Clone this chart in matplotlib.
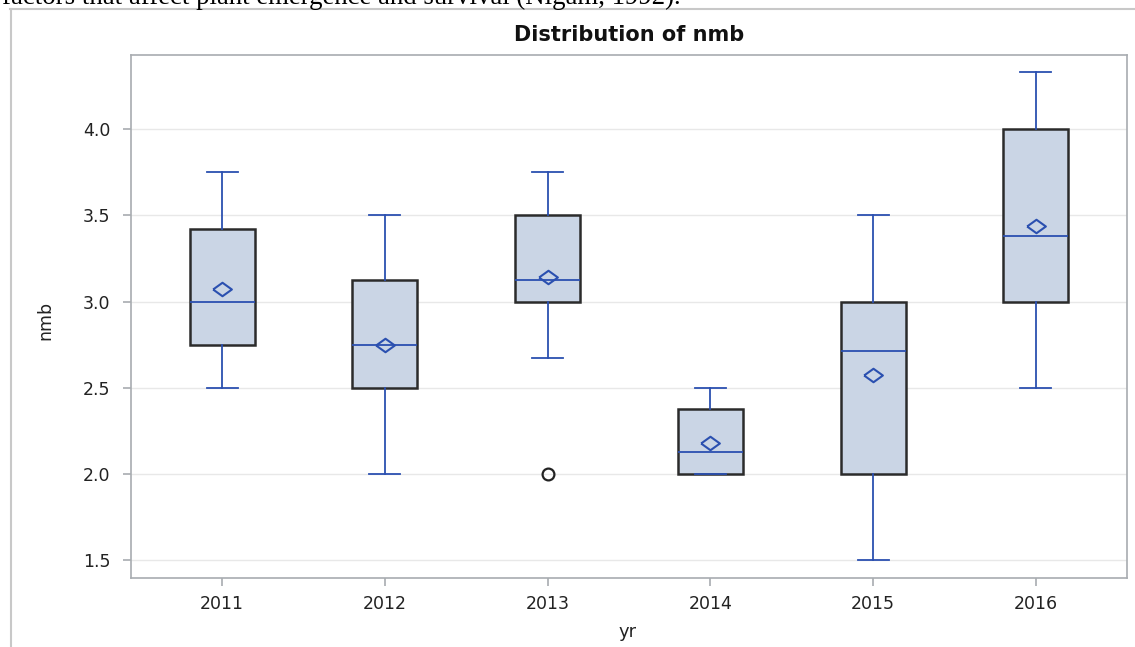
import numpy as np
import matplotlib.pyplot as plt
from matplotlib.lines import Line2D

# nmb summary statistics per year
years = ['2011', '2012', '2013', '2014', '2015', '2016']
whislo = [2.5, 2.0, 2.67, 2.0, 1.5, 2.5]
q1 = [2.75, 2.5, 3.0, 2.0, 2.0, 3.0]
med = [3.0, 2.75, 3.125, 2.125, 2.71, 3.38]
q3 = [3.42, 3.125, 3.5, 2.375, 3.0, 4.0]
whishi = [3.75, 3.5, 3.75, 2.5, 3.5, 4.33]
means = [3.07, 2.75, 3.14, 2.18, 2.575, 3.44]
fliers = [[], [], [2.0], [], [], []]

blue = '#2B50B0'
fill = '#CAD5E5'

stats = []
for i in range(len(years)):
    stats.append({'label': years[i], 'whislo': whislo[i], 'q1': q1[i], 'med': med[i],
                  'q3': q3[i], 'whishi': whishi[i], 'mean': means[i], 'fliers': fliers[i]})

# flattened diamond for the mean
diamond = [(-1, 0), (0, 0.72), (1, 0), (0, -0.72), (-1, 0)]

fig = plt.figure(figsize=(11.35, 6.47), dpi=100)
ax = fig.add_axes([131 / 1135, 1 - 578 / 647, 996 / 1135, 523 / 647])

ax.bxp(stats, positions=np.arange(len(years)), widths=0.40, patch_artist=True,
       showmeans=True, showfliers=True,
       boxprops=dict(facecolor=fill, edgecolor='#2B2B2B', linewidth=1.8),
       medianprops=dict(color=blue, linewidth=1.3),
       whiskerprops=dict(color=blue, linewidth=1.3),
       capprops=dict(color=blue, linewidth=1.3),
       capwidths=0.19,
       meanprops=dict(marker=diamond, markersize=13.5, markerfacecolor='none',
                      markeredgecolor=blue, markeredgewidth=1.5),
       flierprops=dict(marker='o', markersize=8.5, markerfacecolor='none',
                       markeredgecolor='#222222', markeredgewidth=1.6))

ax.set_xlim(-0.56, 5.56)
ax.set_ylim(1.396, 4.43)
ax.set_yticks([1.5, 2.0, 2.5, 3.0, 3.5, 4.0])
ax.set_yticklabels(['1.5', '2.0', '2.5', '3.0', '3.5', '4.0'])
ax.set_xticks(np.arange(len(years)))
ax.set_xticklabels(years)
ax.yaxis.grid(True, color='#E8E8E8', linewidth=1)
ax.set_axisbelow(True)
for s in ax.spines.values():
    s.set_color('#A8ACB0')
    s.set_linewidth(1.2)
ax.tick_params(axis='both', colors='#A8ACB0', labelcolor='#222222', labelsize=12.5,
               length=6, width=1.2)
ax.tick_params(axis='y', pad=9)
ax.tick_params(axis='x', pad=6)

fig.text(ax.get_position().x0 + ax.get_position().width / 2, 1 - 35 / 647,
         'Distribution of nmb', ha='center', va='center', fontsize=15, fontweight='bold',
         color='#111111')
fig.text(45 / 1135, 1 - 320 / 647, 'nmb', rotation=90, ha='center', va='center',
         fontsize=12.5, color='#222222')
fig.text(628 / 1135, 1 - 632 / 647, 'yr', ha='center', va='center', fontsize=13,
         color='#222222')

# surrounding page text and frame
fig.text(0.002, 1 - 3.5 / 647, 'factors that affect plant emergence and survival (Nigam, 1992).',
         ha='left', va='baseline', fontsize=19.3, family='Liberation Serif', color='black')
fig.add_artist(Line2D([11 / 1135, 11 / 1135], [0, 1 - 9 / 647], color='#C8C8C8', lw=1.5))
fig.add_artist(Line2D([10 / 1135, 1], [1 - 9 / 647, 1 - 9 / 647], color='#C8C8C8', lw=1.5))

fig.savefig('out.png', dpi=100)
